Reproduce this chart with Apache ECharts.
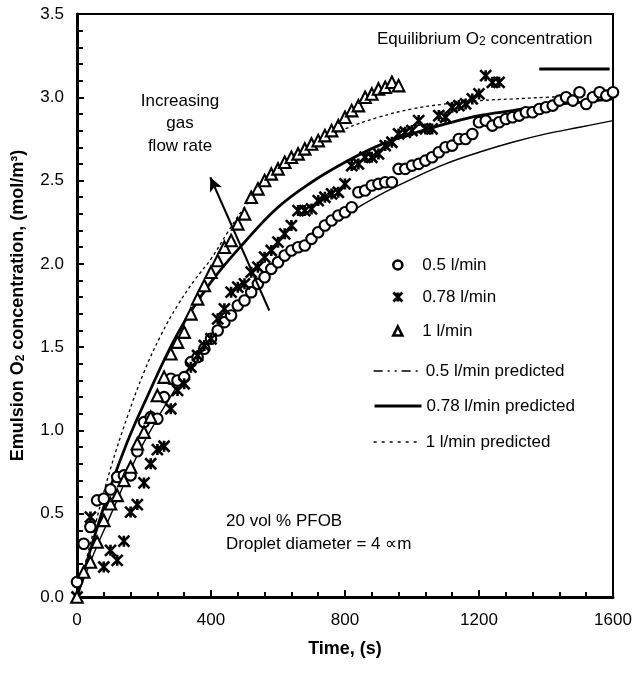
<!DOCTYPE html>
<html><head><meta charset="utf-8">
<script src="https://cdn.jsdelivr.net/npm/echarts@6/dist/echarts.min.js"></script>
<style>html,body{margin:0;padding:0;background:#fff}#c{width:634px;height:674px}</style>
</head><body><div id="c"></div>
<script>
const FONT = '"Liberation Sans", Arial, Helvetica, sans-serif';

// ---- data (time in s, concentration in mol/m3) ----
const xTickLabels = ['0', '400', '800', '1200', '1600'];
const yTickLabels = ['0.0', '0.5', '1.0', '1.5', '2.0', '2.5', '3.0', '3.5'];

const circleTime = [0,20,40,60,80,100,120,140,160,180,200,220,240,260,280,300,320,340,360,380,400,420,440,460,480,500,520,540,560,580,600,620,640,660,680,700,720,740,760,780,800,820,840,860,880,900,920,940,960,980,1000,1020,1040,1060,1080,1100,1120,1140,1160,1180,1200,1220,1240,1260,1280,1300,1320,1340,1360,1380,1400,1420,1440,1460,1480,1500,1520,1540,1560,1580,1600];
const circleConc = [0.09,0.32,0.42,0.58,0.59,0.645,0.72,0.73,0.73,0.875,1.05,1.08,1.07,1.20,1.31,1.30,1.32,1.41,1.44,1.49,1.55,1.60,1.65,1.69,1.75,1.78,1.83,1.88,1.92,1.97,2.01,2.05,2.08,2.10,2.11,2.15,2.19,2.23,2.26,2.29,2.31,2.34,2.43,2.44,2.47,2.48,2.49,2.49,2.57,2.57,2.59,2.60,2.62,2.64,2.67,2.70,2.71,2.75,2.75,2.78,2.85,2.86,2.83,2.85,2.87,2.88,2.89,2.91,2.91,2.93,2.94,2.95,2.98,3.00,2.98,3.03,2.96,3.00,3.03,3.01,3.03];

const starTime = [0,40,80,100,120,140,160,180,200,220,240,260,280,300,320,340,360,380,400,420,440,460,480,500,520,540,560,580,600,620,640,660,680,700,720,740,760,780,800,820,840,860,880,900,920,940,960,980,1000,1020,1040,1060,1080,1100,1120,1140,1160,1180,1200,1220,1240,1260];
const starConc = [0.00,0.48,0.18,0.28,0.22,0.335,0.51,0.555,0.685,0.80,0.885,0.905,1.13,1.24,1.28,1.38,1.45,1.51,1.55,1.67,1.73,1.83,1.86,1.88,1.95,1.98,2.04,2.08,2.13,2.18,2.23,2.32,2.32,2.33,2.38,2.40,2.42,2.43,2.48,2.59,2.60,2.64,2.64,2.66,2.71,2.73,2.78,2.79,2.80,2.86,2.81,2.81,2.89,2.88,2.94,2.95,2.96,2.99,3.02,3.13,3.09,3.09];

const triTime = [0,20,40,60,80,100,120,140,160,180,200,220,240,260,280,300,320,340,360,380,400,420,440,460,480,500,520,540,560,580,600,620,640,660,680,700,720,740,760,780,800,820,840,860,880,900,920,940,960];
const triConc = [0.00,0.15,0.21,0.33,0.46,0.56,0.61,0.70,0.78,0.92,0.99,1.08,1.21,1.32,1.46,1.53,1.59,1.70,1.79,1.87,1.95,2.02,2.10,2.14,2.24,2.30,2.40,2.45,2.50,2.54,2.57,2.61,2.64,2.66,2.69,2.72,2.74,2.77,2.80,2.83,2.88,2.92,2.95,3.00,3.02,3.05,3.06,3.09,3.07];

const pred05Time = [0,50,100,150,200,300,400,500,600,700,800,900,1000,1100,1200,1300,1400,1500,1600];
const pred05Conc = [0,0.26,0.49,0.72,0.93,1.27,1.56,1.79,1.98,2.15,2.29,2.41,2.51,2.60,2.67,2.73,2.78,2.82,2.86];

const pred078Time = [0,50,100,150,200,300,400,500,600,700,800,900,1000,1100,1200,1300,1400,1500,1600];
const pred078Conc = [0,0.35,0.66,0.93,1.16,1.58,1.89,2.13,2.34,2.49,2.61,2.71,2.78,2.84,2.89,2.92,2.95,2.97,2.99];

const pred1Time = [0,50,100,150,200,250,300,350,400,450,500,550,600,650,700,800,900,1000,1100,1200,1300,1400,1500,1600];
const pred1Conc = [0,0.40,0.77,1.08,1.35,1.57,1.75,1.90,2.03,2.19,2.34,2.46,2.56,2.64,2.71,2.81,2.88,2.93,2.96,2.98,2.99,3.00,3.01,3.02];

const eqTime = [1380, 1590];
const eqConc = [3.17, 3.17];

// arrow annotation (data coords)
const arrowStart = [574, 1.72];
const arrowEnd = [398, 2.52];

const zip = (a, b) => a.map((v, i) => [v, b[i]]);

const chart = echarts.init(document.getElementById('c'), null, {renderer: 'canvas'});
const black = '#000';
const clear = 'rgba(0,0,0,0)';
const starPath = 'path://M0,0L10,10M10,0L0,10M5,0L5,10';

function legendBox(name, left, top, opts) {
  return Object.assign({
    data: [name], left: left, top: top, padding: 0, orient: 'horizontal',
    selectedMode: false, itemGap: 0,
    textStyle: {fontFamily: FONT, fontSize: 17, color: black, lineHeight: 20}
  }, opts);
}
const markerText = {fontFamily: FONT, fontSize: 17, color: black, lineHeight: 20, padding: [0, 0, 0, 15]};

const option = {
  backgroundColor: '#fff',
  animation: false,
  color: [black],
  grid: {left: 77, top: 14, width: 536, height: 583, show: true, borderColor: black, borderWidth: 2,
         containLabel: false, outerBoundsMode: 'none'},
  xAxis: {
    type: 'value', min: 0, max: 1600, interval: 400,
    axisLine: {show: true, onZero: false, lineStyle: {color: black, width: 3}},
    axisTick: {show: true, inside: true, length: 7, lineStyle: {color: black, width: 2}},
    minorTick: {show: true, splitNumber: 5, length: 5, lineStyle: {color: black, width: 2}},
    splitLine: {show: false}, minorSplitLine: {show: false},
    axisLabel: {fontFamily: FONT, fontSize: 17, color: black, margin: 15,
                formatter: (v) => xTickLabels[Math.round(v / 400)]},
    name: 'Time, (s)', nameLocation: 'middle', nameGap: 43,
    nameTextStyle: {fontFamily: FONT, fontSize: 18, fontWeight: 'bold', color: black}
  },
  yAxis: {
    type: 'value', min: 0, max: 3.5, interval: 0.5,
    axisLine: {show: true, onZero: false, lineStyle: {color: black, width: 3}},
    axisTick: {show: true, inside: true, length: 7, lineStyle: {color: black, width: 2}},
    minorTick: {show: true, splitNumber: 5, length: 6, lineStyle: {color: black, width: 2}},
    splitLine: {show: false}, minorSplitLine: {show: false},
    axisLabel: {fontFamily: FONT, fontSize: 17, color: black, margin: 13,
                formatter: (v) => yTickLabels[Math.round(v / 0.5)]},
    name: 'Emulsion O{sub|2} concentration, (mol/m³)', nameLocation: 'middle', nameGap: 50,
    nameTextStyle: {fontFamily: FONT, fontSize: 18, fontWeight: 'bold', color: black,
      rich: {sub: {fontFamily: FONT, fontSize: 12, fontWeight: 'bold', color: black, verticalAlign: 'bottom', lineHeight: 6}}}
  },
  legend: [
    legendBox('0.5 l/min', 392, 255, {itemWidth: 9, itemHeight: 9,
      itemStyle: {borderWidth: 2.6, color: '#fff', borderColor: black, opacity: 1}, textStyle: markerText}),
    legendBox('0.78 l/min', 392, 287, {itemWidth: 9, itemHeight: 9,
      itemStyle: {borderWidth: 2.8, color: clear, borderColor: black, opacity: 1}, textStyle: markerText}),
    legendBox('1 l/min', 392, 321, {itemWidth: 9, itemHeight: 9,
      itemStyle: {borderWidth: 2.6, color: '#fff', borderColor: black, opacity: 1}, textStyle: markerText}),
    legendBox('0.5 l/min predicted', 373, 361, {itemWidth: 47, itemHeight: 12,
      itemStyle: {color: clear, borderColor: clear, borderWidth: 0},
      lineStyle: {type: [9, 5, 2, 5, 2, 5], width: 1.3, color: black}}),
    legendBox('0.78 l/min predicted', 373, 396, {itemWidth: 47, itemHeight: 12,
      itemStyle: {color: clear, borderColor: clear, borderWidth: 0},
      lineStyle: {width: 3, color: black}}),
    legendBox('1 l/min predicted', 373, 432, {itemWidth: 47, itemHeight: 12,
      itemStyle: {color: clear, borderColor: clear, borderWidth: 0},
      lineStyle: {type: [3, 5], width: 1.3, color: black}})
  ],
  graphic: [
    {type: 'text', left: 377, top: 31, silent: true,
     style: {text: 'Equilibrium O{sub|2} concentration', fill: black, font: '17px ' + FONT,
       rich: {sub: {fontSize: 12, fontFamily: FONT, fill: black, verticalAlign: 'bottom', lineHeight: 6}}}},
    {type: 'text', x: 180, y: 90, silent: true,
     style: {text: 'Increasing\ngas\nflow rate', fill: black, font: '17px ' + FONT, align: 'center',
       verticalAlign: 'top', lineHeight: 22.5}},
    {type: 'text', x: 226, y: 510, silent: true,
     style: {text: '20 vol % PFOB\nDroplet diameter = 4 ∝m', fill: black, font: '17px ' + FONT,
       align: 'left', verticalAlign: 'top', lineHeight: 23}}
  ],
  series: [
    {name: '0.5 l/min predicted', type: 'line', data: zip(pred05Time, pred05Conc), smooth: 0.4,
     showSymbol: false, symbol: 'none', itemStyle: {color: black}, lineStyle: {color: black, width: 1.4}, z: 2},
    {name: '0.78 l/min predicted', type: 'line', data: zip(pred078Time, pred078Conc), smooth: 0.4,
     showSymbol: false, symbol: 'none', itemStyle: {color: black}, lineStyle: {color: black, width: 2.8}, z: 2},
    {name: '1 l/min predicted', type: 'line', data: zip(pred1Time, pred1Conc), smooth: 0.4,
     showSymbol: false, symbol: 'none', itemStyle: {color: black}, lineStyle: {color: black, width: 1.3, type: [3, 3]}, z: 2},
    {name: 'equilibrium', type: 'line', data: zip(eqTime, eqConc), showSymbol: false, symbol: 'none',
     itemStyle: {color: black}, lineStyle: {color: black, width: 3}, z: 2,
     markLine: {silent: true, symbol: ['none', 'arrow'], symbolSize: [10, 14], label: {show: false},
       lineStyle: {color: black, width: 2, type: 'solid'},
       data: [[{coord: arrowStart}, {coord: arrowEnd}]]}},
    {name: '0.5 l/min', type: 'scatter', data: zip(circleTime, circleConc), symbol: 'circle', symbolSize: 10.5,
     itemStyle: {color: '#fff', borderColor: black, borderWidth: 2.1, opacity: 1}, z: 3},
    {name: '0.78 l/min', type: 'scatter', data: zip(starTime, starConc), symbol: starPath, symbolSize: 11,
     itemStyle: {color: clear, borderColor: black, borderWidth: 2.6, opacity: 1}, z: 4},
    {name: '1 l/min', type: 'scatter', data: zip(triTime, triConc), symbol: 'triangle', symbolSize: 11.5,
     itemStyle: {color: '#fff', borderColor: black, borderWidth: 2.1, opacity: 1}, z: 5}
  ]
};
chart.setOption(option);
</script>
</body></html>
